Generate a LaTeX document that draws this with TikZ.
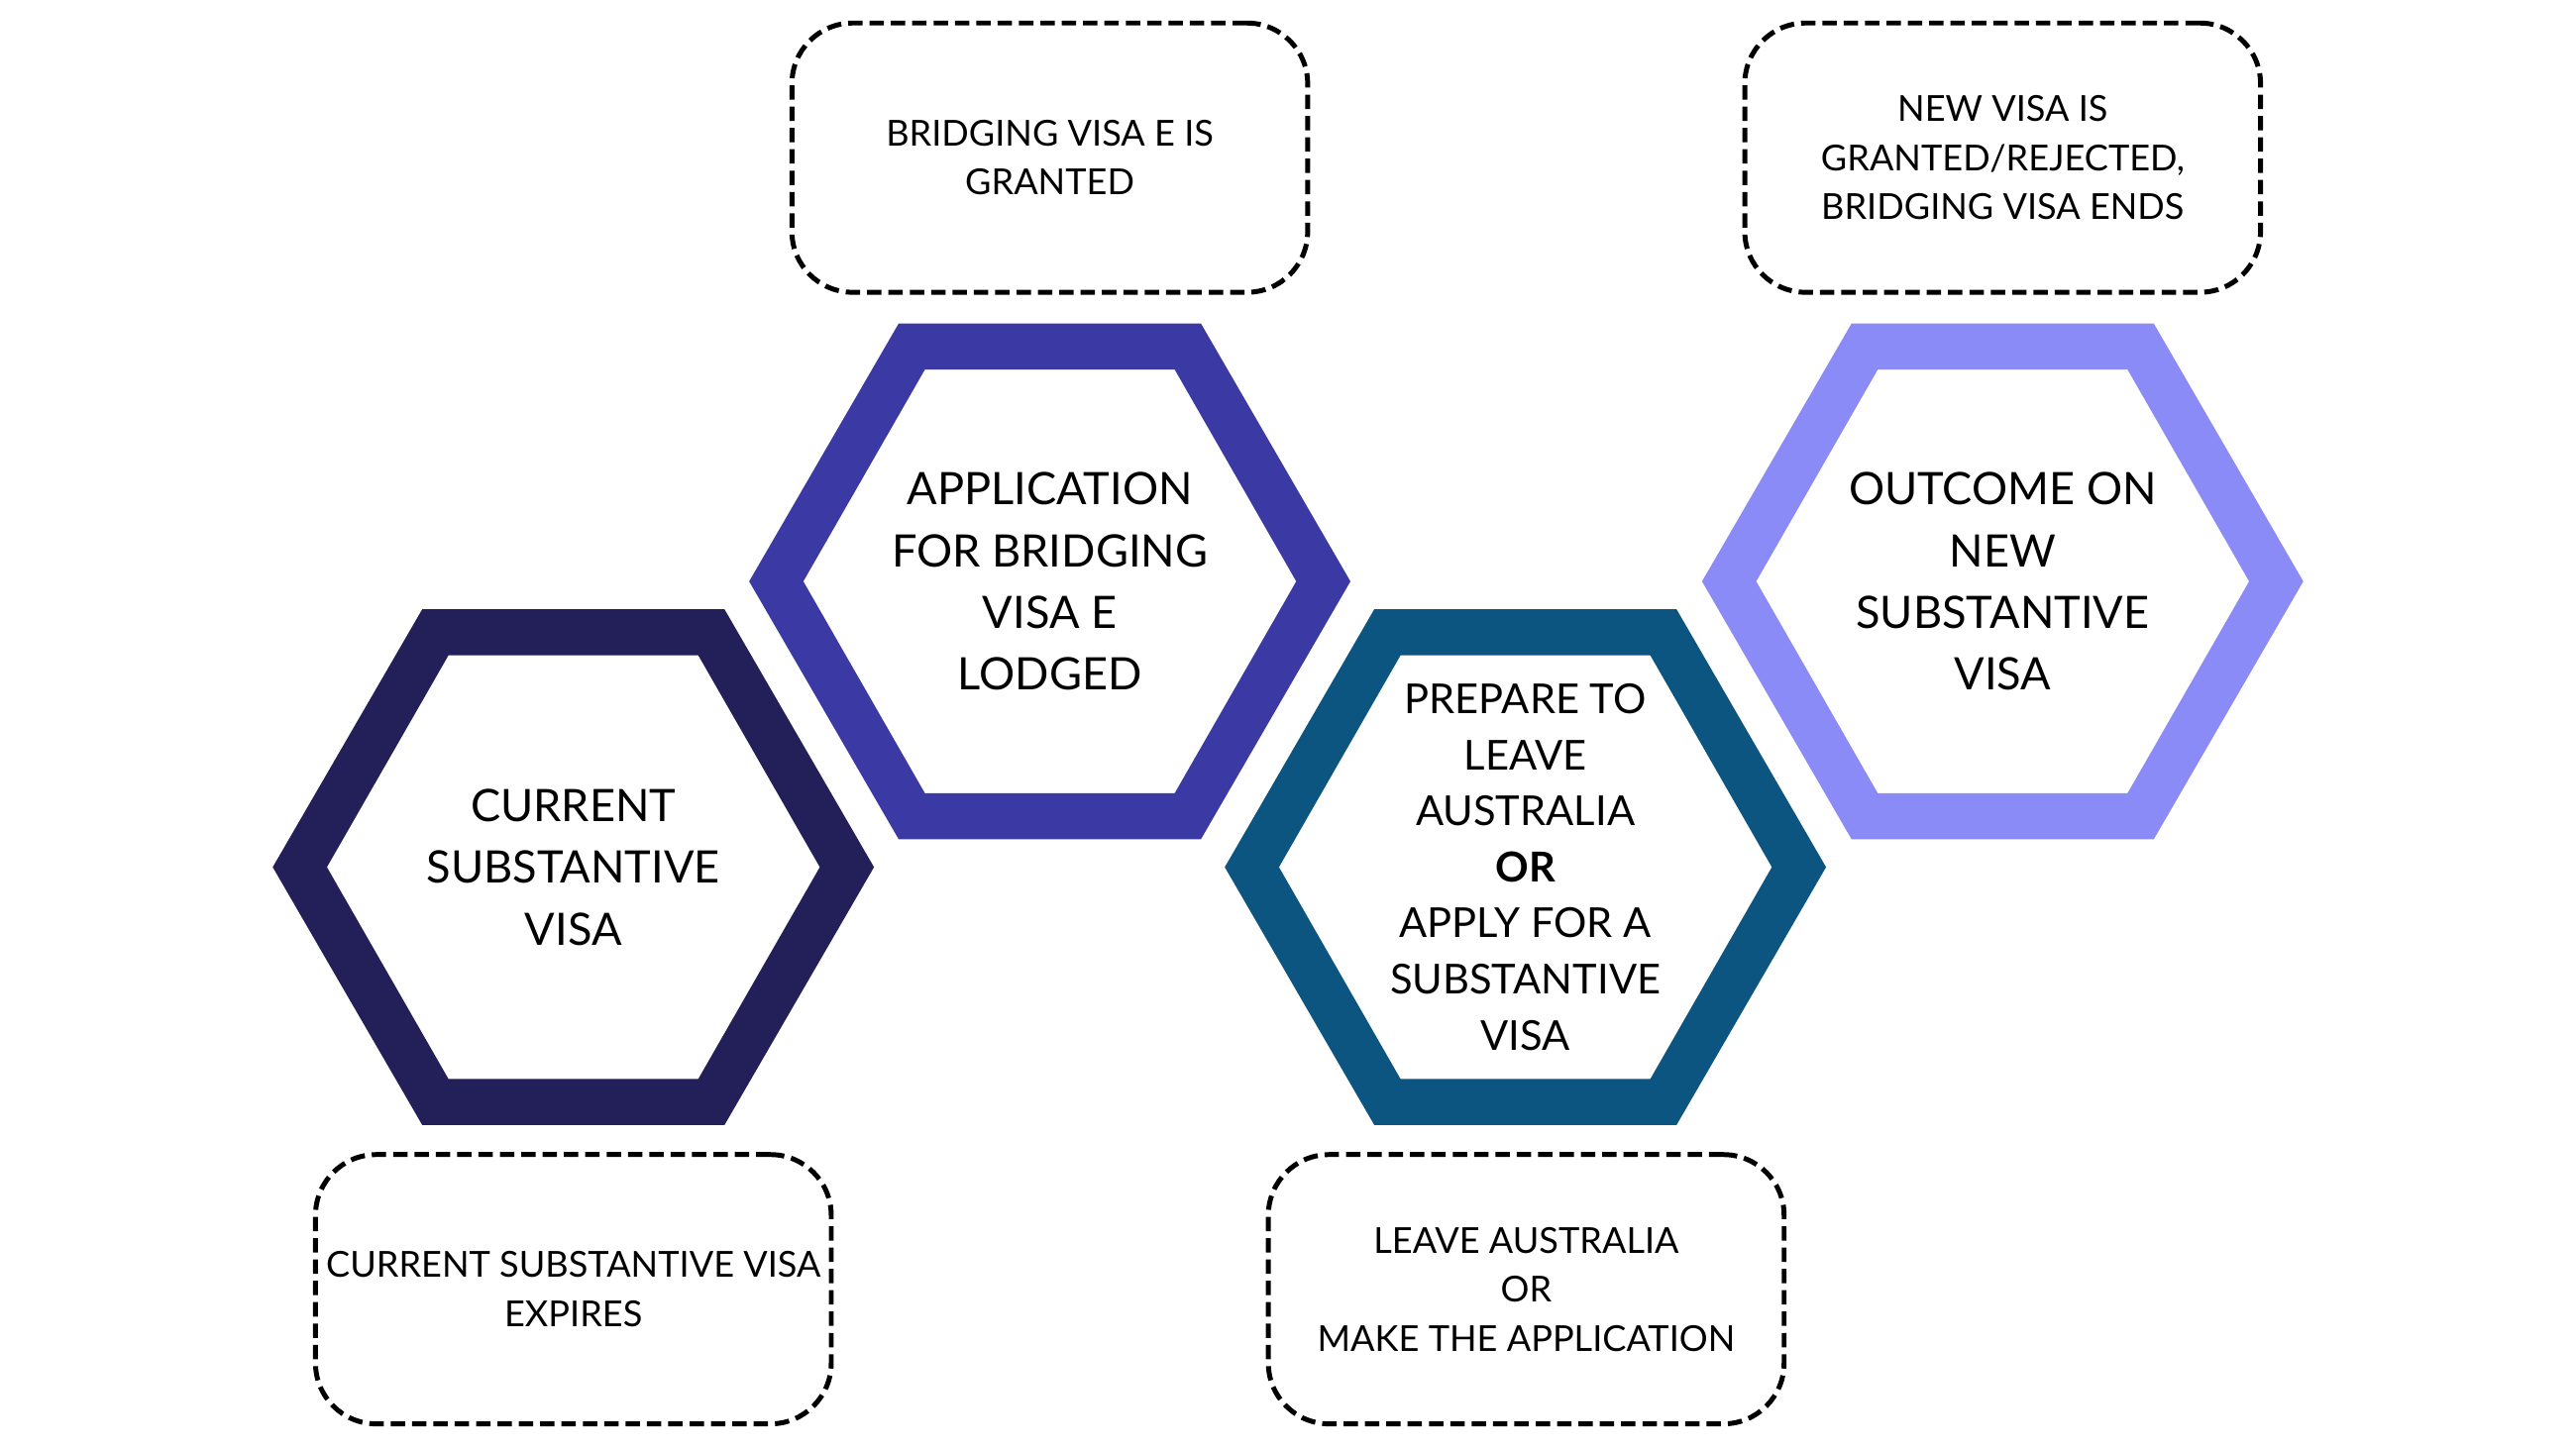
\documentclass[tikz,border=0pt]{standalone}
\usepackage{fontspec}
\setmainfont{Lato}
\usepackage{tikz}
\definecolor{hexnavy}{RGB}{35,31,89}
\definecolor{hexindigo}{RGB}{59,58,164}
\definecolor{hexteal}{RGB}{11,85,128}
\definecolor{hexlilac}{RGB}{139,139,248}

\begin{document}
\begin{tikzpicture}[x=0.02cm,y=-0.02cm,
	hextext/.style={align=center,font=\fontsize{15.5}{21.4}\selectfont},
	notebox/.style={draw,dash pattern=on 1.75mm off 0.85mm,line width=0.6mm,rounded corners=0.74cm,
		minimum width=6.28cm,minimum height=3.28cm,align=center,font=\fontsize{12.4}{17}\selectfont}]
	\newcommand\HexOuter{+(-183,0) -- +(-92,-157) -- +(92,-157) -- +(183,0) -- +(92,157) -- +(-92,157) -- cycle}
	\newcommand\HexInner{+(-150,0) -- +(-76,-129) -- +(76,-129) -- +(150,0) -- +(76,129) -- +(-76,129) -- cycle}

	\useasboundingbox (0,0) rectangle (1568,882);

	\node[hextext] (current) at (349,528) {CURRENT\\SUBSTANTIVE\\VISA};
	\node[hextext] (bve) at (639,354) {APPLICATION\\FOR BRIDGING\\VISA E\\LODGED};
	\node[hextext,font=\fontsize{14.3}{19.4}\selectfont] (prepare) at (928.5,528)
		{PREPARE TO\\LEAVE\\AUSTRALIA\\\textbf{OR}\\APPLY FOR A\\SUBSTANTIVE\\VISA};
	\node[hextext] (outcome) at (1219,354) {OUTCOME ON\\NEW\\SUBSTANTIVE\\VISA};

	\fill[hexnavy,even odd rule] (current.center) \HexOuter (current.center) \HexInner;
	\fill[hexindigo,even odd rule] (bve.center) \HexOuter (bve.center) \HexInner;
	\fill[hexteal,even odd rule] (prepare.center) \HexOuter (prepare.center) \HexInner;
	\fill[hexlilac,even odd rule] (outcome.center) \HexOuter (outcome.center) \HexInner;

	\node[notebox] (expires) at (349,785) {CURRENT SUBSTANTIVE VISA\\EXPIRES};
	\node[notebox] (granted) at (639,96) {BRIDGING VISA E IS\\GRANTED};
	\node[notebox] (leave) at (929,785) {LEAVE AUSTRALIA\\OR\\MAKE THE APPLICATION};
	\node[notebox] (ends) at (1219,96) {NEW VISA IS\\GRANTED/REJECTED,\\BRIDGING VISA ENDS};
\end{tikzpicture}
\end{document}
